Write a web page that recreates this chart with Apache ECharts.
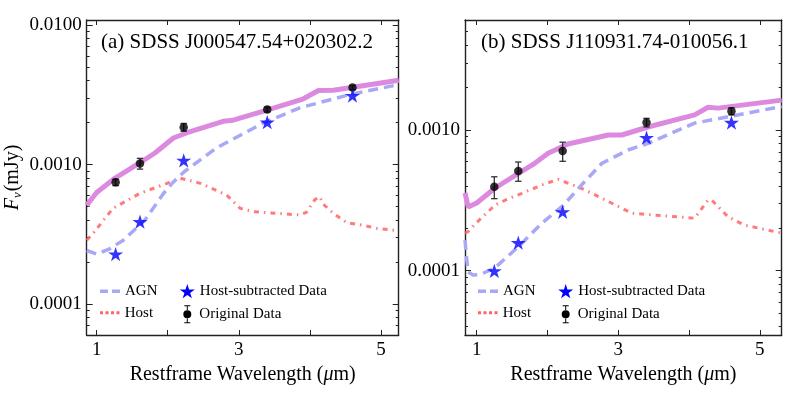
<!DOCTYPE html>
<html><head><meta charset="utf-8">
<script src="https://cdn.jsdelivr.net/npm/echarts@6/dist/echarts.min.js"></script>
<style>html,body{margin:0;padding:0;background:#fff}#c{width:789px;height:395px}</style>
</head><body><div id="c"></div>
<script>
// ---------- Panel (a) SDSS J000547.54+020302.2 ----------
const titleA = '(a) SDSS J000547.54+020302.2';
const obsXA = [1.267, 1.61, 2.225, 3.40, 4.60];
const origYA = [7.46e-4, 1.017e-3, 1.85e-3, 2.48e-3, 3.56e-3];
const origErrA = [0.4e-4, 0.9e-4, 1.2e-4, 1.0e-4, 1.2e-4];
const subYA = [2.28e-4, 3.89e-4, 1.07e-3, 2.01e-3, 3.12e-3];
const totalXA = [0.86, 1.0, 1.26, 1.61, 1.82, 2.08, 2.27, 2.78, 2.92, 3.35, 3.91, 4.12, 4.33, 5.25];
const totalYA = [5.1e-4, 6.3e-4, 8.0e-4, 1.03e-3, 1.21e-3, 1.55e-3, 1.69e-3, 2.04e-3, 2.08e-3, 2.41e-3, 2.96e-3, 3.39e-3, 3.41e-3, 4.02e-3];
const agnXA = [0.86, 1.0, 1.19, 1.375, 1.68, 1.94, 2.08, 2.24, 2.69, 3.35, 3.86, 4.57, 5.25];
const agnYA = [2.42e-4, 2.28e-4, 2.5e-4, 2.87e-4, 4.0e-4, 6.2e-4, 7.5e-4, 8.95e-4, 1.32e-3, 1.99e-3, 2.55e-3, 3.18e-3, 3.74e-3];
const hostXA = [0.86, 0.95, 1.23, 1.61, 1.99, 2.17, 2.46, 2.83, 3.02, 3.21, 3.86, 3.95, 4.07, 4.14, 4.19, 4.33, 4.52, 4.73, 4.94, 5.25];
const hostYA = [2.87e-4, 3.21e-4, 4.85e-4, 6.22e-4, 7.33e-4, 8.0e-4, 7.33e-4, 6.04e-4, 4.85e-4, 4.59e-4, 4.35e-4, 4.54e-4, 5.6e-4, 5.87e-4, 5.19e-4, 4.47e-4, 3.83e-4, 3.68e-4, 3.49e-4, 3.35e-4];

// ---------- Panel (b) SDSS J110931.74-010056.1 ----------
const titleB = '(b) SDSS J110931.74-010056.1';
const obsXB = [1.249, 1.588, 2.215, 3.40, 4.60];
const origYB = [3.95e-4, 5.12e-4, 7.09e-4, 1.13e-3, 1.36e-3];
const origErrB = [0.7e-4, 0.8e-4, 1.1e-4, 0.8e-4, 0.8e-4];
const subYB = [9.96e-5, 1.58e-4, 2.62e-4, 8.82e-4, 1.13e-3];
const totalXB = [0.835, 0.88, 1.0, 1.26, 1.59, 1.82, 2.01, 2.29, 2.86, 3.05, 3.42, 4.08, 4.27, 4.41, 5.31];
const totalYB = [3.57e-4, 2.84e-4, 3.03e-4, 3.87e-4, 4.92e-4, 5.8e-4, 6.83e-4, 7.95e-4, 9.21e-4, 9.21e-4, 1.05e-3, 1.28e-3, 1.45e-3, 1.43e-3, 1.63e-3];
const agnXB = [0.835, 0.86, 0.88, 0.95, 1.05, 1.25, 1.59, 1.92, 2.22, 2.48, 2.77, 3.14, 3.42, 4.08, 4.55, 5.31];
const agnYB = [1.65e-4, 1.19e-4, 9.8e-5, 9.3e-5, 9.4e-5, 1.04e-4, 1.48e-4, 2.17e-4, 2.9e-4, 4.06e-4, 5.8e-4, 7.21e-4, 8.04e-4, 1.12e-3, 1.24e-3, 1.47e-3];
const hostXB = [0.835, 0.88, 1.0, 1.26, 1.42, 1.64, 1.92, 2.15, 2.48, 2.77, 3.19, 4.08, 4.27, 4.32, 4.55, 4.78, 5.31];
const hostYB = [1.85e-4, 1.9e-4, 2.2e-4, 2.93e-4, 3.2e-4, 3.55e-4, 4.06e-4, 4.46e-4, 3.85e-4, 3.27e-4, 2.56e-4, 2.36e-4, 3.18e-4, 3.18e-4, 2.42e-4, 2.11e-4, 1.85e-4];

// ---------- axes ----------
const xRangeA = [0.86, 5.25], xRangeB = [0.835, 5.31];
const yRangeA = [6.0e-5, 1.086e-2], yRangeB = [3.49e-5, 6.05e-3];
const xTicks = [1, 2, 3, 4, 5];
const xTickLabels = [1, 3, 5];
const xName = 'Restframe Wavelength (';

const FONT = 'Liberation Serif';
const AX = '#222';
const C_TOTAL = '#DC8ADF', C_AGN = '#A8A8F6', C_HOST = '#FF6464', C_STAR = '#0000FF';
const STAR = 'path://M0,-10L2.245,-3.09L9.511,-3.09L3.633,1.18L5.878,8.09L0,3.82L-5.878,8.09L-3.633,1.18L-9.511,-3.09L-2.245,-3.09Z';
const EBAR = 'path://M-3,-9L3,-9L3,-8L0.5,-8L0.5,-4.3L-0.5,-4.3L-0.5,-8L-3,-8Z M-0.5,4.3L0.5,4.3L0.5,8L3,8L3,9L-3,9L-3,8L-0.5,8Z M-4,0A4,4 0 1,1 4,0A4,4 0 1,1 -4,0Z';
const ICON_AGN = 'path://M0,0h8v3.5h-8z M12,0h8v3.5h-8z';
const ICON_HOST = 'path://M0,0h3v3h-3z M5.5,0h3v3h-3z M11,0h3v3h-3z M16.5,0h3v3h-3z';

const pairs = (xs, ys) => xs.map((x, i) => [x, ys[i]]);
const errData = (xs, ys, es) => xs.map((x, i) => [x, ys[i] - es[i], ys[i] + es[i]]);

function errRender(params, api) {
  const x = api.value(0), lo = api.value(1), hi = api.value(2);
  const a = api.coord([x, hi]), b = api.coord([x, lo]);
  const w = 3.2;
  const st = { stroke: '#333', lineWidth: 1.3 };
  return { type: 'group', children: [
    { type: 'line', shape: { x1: a[0], y1: a[1], x2: b[0], y2: b[1] }, style: st },
    { type: 'line', shape: { x1: a[0] - w, y1: a[1], x2: a[0] + w, y2: a[1] }, style: st },
    { type: 'line', shape: { x1: b[0] - w, y1: b[1], x2: b[0] + w, y2: b[1] }, style: st }
  ]};
}

function xAxes(g, range) {
  const base = {
    type: 'value', gridIndex: g, min: range[0], max: range[1],
    axisLine: { show: true, onZero: false, lineStyle: { color: AX, width: 1.4 } },
    axisTick: { show: true, inside: true, length: 5, customValues: xTicks, lineStyle: { color: AX, width: 1 } },
    splitLine: { show: false }
  };
  return [
    Object.assign({}, base, {
      position: 'bottom',
      axisLabel: { show: true, customValues: xTickLabels, margin: 6, color: '#000', fontFamily: FONT, fontSize: 19 },
      name: '{n|' + xName + '}{i|μ}{n|m)}', nameLocation: 'middle', nameGap: 22,
      nameTextStyle: { rich: {
        n: { fontFamily: FONT, fontSize: 20, color: '#000' },
        i: { fontFamily: FONT, fontSize: 20, fontStyle: 'italic', color: '#000' } } }
    }),
    Object.assign({}, base, { position: 'top', axisLabel: { show: false } })
  ];
}

function yAxes(g, range, withName) {
  const base = {
    type: 'log', logBase: 10, gridIndex: g, min: range[0], max: range[1],
    axisLine: { show: true, onZero: false, lineStyle: { color: AX, width: 1.4 } },
    axisTick: { show: true, inside: true, length: 6, lineStyle: { color: AX, width: 1 } },
    minorTick: { show: true, splitNumber: 9, length: 3, lineStyle: { color: AX, width: 1 } },
    splitLine: { show: false }, minorSplitLine: { show: false }
  };
  const left = Object.assign({}, base, {
    position: 'left',
    axisLabel: { show: true, margin: 5, color: '#000', fontFamily: FONT, fontSize: 19,
      showMinLabel: false, showMaxLabel: false,
      formatter: v => Number(v).toFixed(4) }
  });
  if (withName) {
    Object.assign(left, {
      name: '{f|F}{s|ν}{n|(mJy)}', nameLocation: 'middle', nameGap: 63, nameRotate: 90,
      nameTextStyle: { rich: {
        f: { fontFamily: FONT, fontSize: 20, fontStyle: 'italic', color: '#000' },
        s: { fontFamily: FONT, fontSize: 13, fontStyle: 'italic', color: '#000', verticalAlign: 'bottom', padding: [8, 1, 0, 0] },
        n: { fontFamily: FONT, fontSize: 20, color: '#000' } } }
    });
  }
  return [left, Object.assign({}, base, { position: 'right', axisLabel: { show: false } })];
}

function panelSeries(g, d) {
  const xi = g * 2, yi = g * 2;
  return [
    { name: 'Host', type: 'line', xAxisIndex: xi, yAxisIndex: yi, data: pairs(d.hostX, d.hostY),
      symbol: 'none', lineStyle: { color: C_HOST, width: 3, type: [5, 5, 1.5, 5], opacity: 0.85 }, itemStyle: { color: C_HOST }, z: 2 },
    { name: 'AGN', type: 'line', xAxisIndex: xi, yAxisIndex: yi, data: pairs(d.agnX, d.agnY),
      symbol: 'none', lineStyle: { color: C_AGN, width: 3.5, type: [10, 6] }, itemStyle: { color: C_AGN }, z: 3 },
    { name: 'Total', type: 'line', xAxisIndex: xi, yAxisIndex: yi, data: pairs(d.totX, d.totY),
      symbol: 'none', lineStyle: { color: C_TOTAL, width: 5 }, itemStyle: { color: C_TOTAL }, z: 4 },
    { name: 'Original Data err', type: 'custom', xAxisIndex: xi, yAxisIndex: yi,
      data: errData(d.obsX, d.origY, d.origErr), encode: { x: 0, y: [1, 2] }, renderItem: errRender, z: 5 },
    { name: 'Original Data', type: 'scatter', xAxisIndex: xi, yAxisIndex: yi, data: pairs(d.obsX, d.origY),
      symbol: 'circle', symbolSize: 8.5, itemStyle: { color: '#000' }, z: 6 },
    { name: 'Host-subtracted Data', type: 'scatter', xAxisIndex: xi, yAxisIndex: yi, data: pairs(d.obsX, d.subY),
      symbol: STAR, symbolSize: 15, symbolKeepAspect: true, itemStyle: { color: C_STAR }, z: 7 }
  ];
}

function legendItem(name, left, cy, icon, w, h, color, padLeft) {
  return {
    show: true, data: [{ name: name, icon: icon, itemStyle: { color: color, opacity: 1 } }], left: left, top: cy - 8,
    orient: 'vertical', padding: 0, itemWidth: w, itemHeight: h, selectedMode: false,
    textStyle: { fontFamily: FONT, fontSize: 15, color: '#000', padding: [0, 0, 0, padLeft || 0] }
  };
}
function panelLegends(lx, sx, r1, r2) {
  return [
    legendItem('AGN', lx, r1, ICON_AGN, 20, 3.5, C_AGN),
    legendItem('Host', lx, r2, ICON_HOST, 20, 3, C_HOST),
    legendItem('Host-subtracted Data', sx - 7.5, r1, STAR, 15, 15, C_STAR),
    legendItem('Original Data', sx - 4, r2, EBAR, 8, 18, '#000', 3)
  ];
}

const dataA = { obsX: obsXA, origY: origYA, origErr: origErrA, subY: subYA, totX: totalXA, totY: totalYA, agnX: agnXA, agnY: agnYA, hostX: hostXA, hostY: hostYA };
const dataB = { obsX: obsXB, origY: origYB, origErr: origErrB, subY: subYB, totX: totalXB, totY: totalYB, agnX: agnXB, agnY: agnYB, hostX: hostXB, hostY: hostYB };

const chart = echarts.init(document.getElementById('c'), null, { renderer: 'canvas' });
chart.setOption({
  animation: false,
  backgroundColor: '#fff',
  title: [
    { text: titleA, left: 101, top: 32, padding: 0, textStyle: { fontFamily: FONT, fontSize: 21, fontWeight: 'normal', color: '#000' } },
    { text: titleB, left: 481, top: 32, padding: 0, textStyle: { fontFamily: FONT, fontSize: 21, fontWeight: 'normal', color: '#000' } }
  ],
  grid: [
    { left: 86.7, top: 20, right: 390.3, bottom: 60, containLabel: false },
    { left: 465, top: 20, right: 7.3, bottom: 60, containLabel: false }
  ],
  xAxis: [].concat(xAxes(0, xRangeA), xAxes(1, xRangeB)),
  yAxis: [].concat(yAxes(0, yRangeA, true), yAxes(1, yRangeB, false)),
  legend: [].concat(panelLegends(100, 187.3, 291.7, 313.3), panelLegends(478, 565.7, 291.7, 313.3)),
  series: [].concat(panelSeries(0, dataA), panelSeries(1, dataB))
});
</script>
</body></html>
